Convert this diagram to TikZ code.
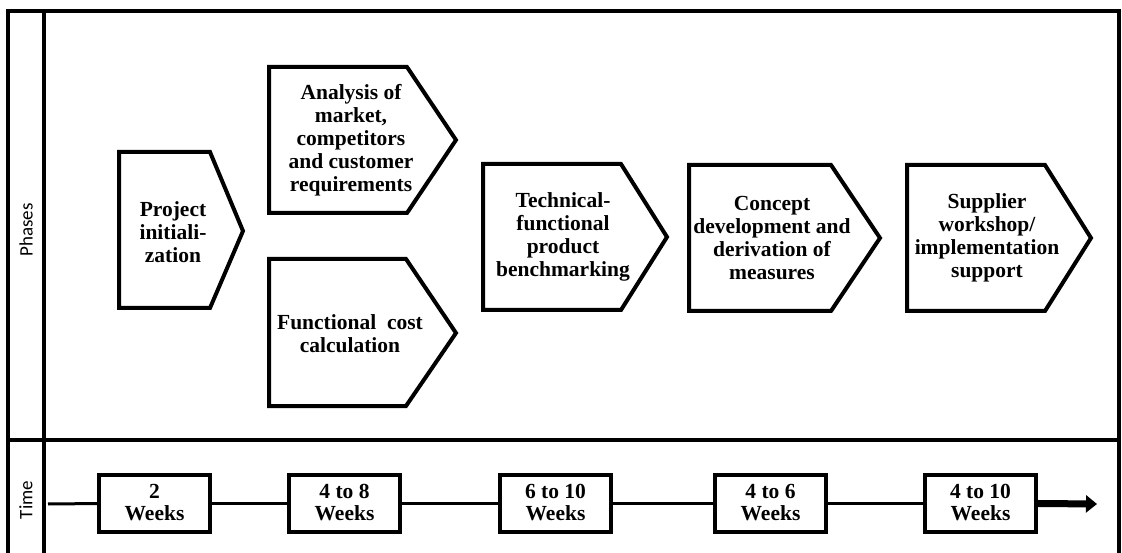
\documentclass[tikz,border=0pt]{standalone}
\usepackage{fontspec}
\setmainfont{Liberation Serif}
\newfontfamily\lanefont{Carlito}
\usetikzlibrary{arrows.meta}

\begin{document}
\begin{tikzpicture}[x=1pt, y=-1pt,
    frame/.style={line width=4pt},
    phase/.style={draw, line width=4pt},
    phasetext/.style={align=center, inner sep=0pt,
        font=\fontsize{21.5}{23}\selectfont\bfseries},
    weeks/.style={draw, line width=4pt, minimum width=111pt,
        minimum height=57pt, align=center, inner sep=0pt,
        font=\fontsize{21.5}{22}\selectfont\bfseries},
    lane/.style={rotate=90, font=\lanefont\fontsize{19}{19}\selectfont}]
    \useasboundingbox (0,0) rectangle (1122,553);
    % frame
    \draw[frame] (8,553) -- (8,11) -- (1119,11) -- (1119,553);
    \draw[frame] (44,11) -- (44,553);
    \draw[frame] (8,440) -- (1119,440);
    \node[lane] (phases) at (26,230) {Phases};
    \node[lane] (time) at (26,500) {Time};
    % phases
    \draw[phase] (119,152) -- (210,152) -- (243,231) -- (210,308) -- (119,308) -- cycle;
    \draw[phase] (269,67) -- (407,67) -- (456,140) -- (407,213) -- (269,213) -- cycle;
    \draw[phase] (269,259) -- (406,259) -- (456,333) -- (406,406) -- (269,406) -- cycle;
    \draw[phase] (483,164) -- (621,164) -- (667,237) -- (621,310) -- (483,310) -- cycle;
    \draw[phase] (689,165) -- (831,165) -- (880,238) -- (831,311) -- (689,311) -- cycle;
    \draw[phase] (907,165) -- (1045,165) -- (1091,238) -- (1045,311) -- (907,311) -- cycle;
    \node[phasetext] (init) at (173,232) {Project\\initiali-\\zation};
    \node[phasetext] (market) at (351,140) {Analysis of\\market,\\competitors\\and customer\\requirements};
    \node[phasetext] (cost) at (350,334) {Functional\ \ cost\\calculation};
    \node[phasetext] (bench) at (563,237) {Technical-\\functional\\product\\benchmarking};
    \node[phasetext] (concept) at (772,238) {Concept\\development and\\derivation of\\measures};
    \node[phasetext] (supplier) at (987,238) {Supplier\\workshop/\\implementation\\support};
    % time line
    \coordinate (start) at (48,504);
    \coordinate (end) at (1097,504);
    \node[weeks] (w1) at (154.5,503) {2\\Weeks};
    \node[weeks] (w2) at (344.5,503) {4 to 8\\Weeks};
    \node[weeks] (w3) at (555.5,503) {6 to 10\\Weeks};
    \node[weeks] (w4) at (770.5,503) {4 to 6\\Weeks};
    \node[weeks] (w5) at (980.5,503) {4 to 10\\Weeks};
    \draw[line width=3pt] (start) -- (w1);
    \draw[line width=3pt] (w1) -- (w2);
    \draw[line width=3pt] (w2) -- (w3);
    \draw[line width=3pt] (w3) -- (w4);
    \draw[line width=3pt] (w4) -- (w5);
    \draw[line width=7pt, -{Triangle[length=11pt,width=17pt]}] (w5) -- (end);
\end{tikzpicture}
\end{document}
